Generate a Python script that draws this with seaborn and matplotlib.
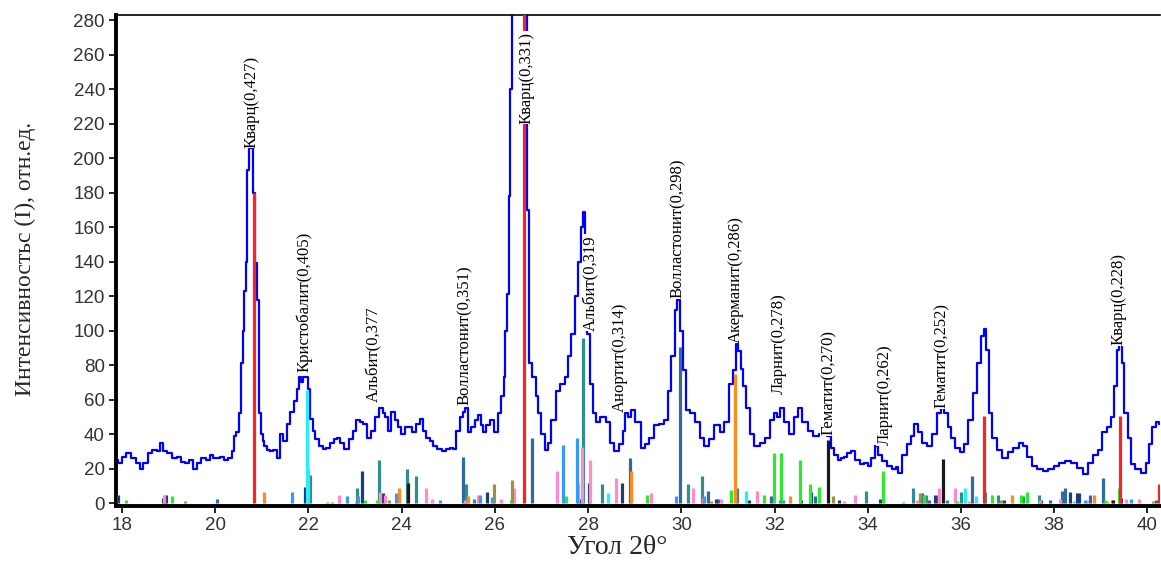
import matplotlib
matplotlib.use("Agg")
import matplotlib.pyplot as plt
import seaborn as sns
import pandas as pd

# ---------------- data ----------------
two_theta = [17.87, 17.95, 18.05, 18.14, 18.25, 18.35, 18.42, 18.5, 18.6, 18.7, 18.78, 18.85, 18.92,
             19.0, 19.13, 19.22, 19.3, 19.4, 19.48, 19.56, 19.65, 19.75, 19.85, 19.92, 20.0, 20.07,
             20.14, 20.22, 20.32, 20.38, 20.42, 20.48, 20.53, 20.57, 20.6, 20.64, 20.67, 20.71, 20.74,
             20.81, 20.83, 20.88, 20.92, 20.96, 21.0, 21.03, 21.08, 21.13, 21.2, 21.28, 21.35, 21.42,
             21.5, 21.57, 21.65, 21.71, 21.78, 21.82, 21.87, 21.91, 21.96, 22.0, 22.07, 22.12, 22.17,
             22.28, 22.35, 22.42, 22.5, 22.58, 22.64, 22.72, 22.81, 22.92, 23.0, 23.06, 23.14, 23.21,
             23.31, 23.38, 23.46, 23.56, 23.62, 23.67, 23.74, 23.81, 23.89, 23.95, 24.03, 24.1, 24.17,
             24.28, 24.35, 24.42, 24.49, 24.56, 24.64, 24.72, 24.81, 24.9, 24.99, 25.07, 25.14, 25.21,
             25.28, 25.34, 25.39, 25.46, 25.53, 25.6, 25.67, 25.72, 25.78, 25.85, 25.92, 26.03, 26.1,
             26.17, 26.21, 26.24, 26.28, 26.31, 26.35, 26.4, 26.5, 26.6, 26.68, 26.71, 26.76, 26.85,
             26.9, 26.96, 27.03, 27.1, 27.17, 27.25, 27.35, 27.46, 27.53, 27.6, 27.67, 27.75, 27.82,
             27.88, 27.92, 27.96, 27.99, 28.07, 28.14, 28.21, 28.32, 28.43, 28.5, 28.6, 28.71, 28.78,
             28.82, 28.88, 28.96, 29.07, 29.18, 29.25, 29.35, 29.46, 29.57, 29.68, 29.75, 29.82, 29.89,
             29.94, 30.0, 30.07, 30.14, 30.25, 30.35, 30.46, 30.53, 30.64, 30.78, 30.89, 30.96, 31.07,
             31.14, 31.19, 31.25, 31.3, 31.36, 31.43, 31.5, 31.61, 31.75, 31.86, 31.96, 32.03, 32.09,
             32.14, 32.25, 32.36, 32.46, 32.53, 32.64, 32.78, 32.89, 33.0, 33.07, 33.18, 33.25, 33.32,
             33.39, 33.46, 33.53, 33.6, 33.68, 33.78, 33.89, 33.96, 34.03, 34.11, 34.18, 34.25, 34.36,
             34.46, 34.57, 34.62, 34.68, 34.78, 34.89, 34.96, 35.04, 35.11, 35.21, 35.32, 35.43, 35.54,
             35.61, 35.68, 35.75, 35.82, 35.93, 36.04, 36.11, 36.21, 36.29, 36.39, 36.46, 36.51, 36.57,
             36.64, 36.71, 36.82, 36.96, 37.07, 37.18, 37.29, 37.36, 37.46, 37.57, 37.68, 37.82, 37.93,
             38.04, 38.18, 38.29, 38.43, 38.54, 38.68, 38.79, 38.89, 39.0, 39.07, 39.18, 39.25, 39.32,
             39.37, 39.42, 39.47, 39.54, 39.61, 39.68, 39.79, 39.93, 40.0, 40.07, 40.14, 40.21, 40.27]
intensity = [25, 23, 27, 29, 26, 23, 20, 23, 29, 31, 30, 35, 30,
             29, 26, 27, 24, 23, 25, 20, 23, 26, 25, 28, 26, 26,
             27, 25, 26, 30, 39, 41, 52, 81, 100, 123, 140, 193, 206,
             206, 180, 139, 118, 52, 40, 36, 33, 31, 30, 31, 26, 40,
             36, 46, 53, 59, 66, 73, 70, 73, 73, 66, 49, 42, 37,
             33, 31.5, 32, 35, 37, 38, 35, 31.5, 37, 42, 48, 47, 46,
             38, 42, 50, 55, 52, 50, 42, 53, 48, 44, 40, 44, 44,
             41, 46, 49, 42, 38, 36, 33, 31.5, 30, 31.5, 32, 31.5, 42,
             50, 53, 55, 41, 44, 48, 51, 45, 41, 45, 48, 41, 52,
             62, 73, 100, 121, 178, 240, 320, 420, 440, 330, 170, 81, 73,
             62, 52, 40, 31, 35, 48, 65, 69, 73, 85, 98, 120, 140,
             160, 169, 150, 98, 69, 52, 47, 50, 47, 35, 30, 34, 42,
             52, 50, 54, 47, 32, 34, 38, 45, 46, 48, 65, 85, 112,
             118, 100, 77, 54, 52, 47, 38, 33, 37, 45, 41, 47, 69,
             77, 92, 88, 78, 68, 55, 40, 33, 35, 38, 48, 52, 50,
             55, 47, 40, 50, 55, 47, 42, 39, 40, 41, 39, 32, 28,
             25, 26, 27, 29, 30, 25, 22.5, 23, 21.6, 26, 33, 28, 24.5,
             21.6, 19.7, 21, 17.7, 28, 34.5, 39, 46, 41, 35, 33, 40, 52,
             55, 52, 44, 38, 32, 29.5, 34, 48, 63.6, 81, 96.6, 101, 89,
             52, 38, 31, 26, 29.5, 32, 35, 33, 27, 21.6, 19.7, 18.7, 19.7,
             21.6, 23.5, 24.5, 23.5, 20.6, 16.8, 23.5, 28, 31, 41, 44, 50, 68,
             89, 95, 81, 52, 38, 22.5, 19.7, 17.7, 23.5, 34.5, 44, 47, 46]

# reference stick patterns (position 2θ, relative intensity) by phase colour
red_pos = [20.83, 26.63, 36.50, 39.42, 40.25]
red_int = [180, 300, 50.4, 50.4, 10.8]
cyan_pos = [21.96, 28.42, 31.38, 36.09, 36.32, 38.43]
cyan_int = [65.5, 6, 7, 8.5, 4, 1]
teal_pos = [22.03, 23.05, 23.52, 24.12, 24.30, 25.38, 25.55, 27.90, 28.30, 30.14, 30.45, 31.19,
            32.18, 33.96, 34.98, 35.25, 35.71, 35.99, 36.52, 36.79, 37.33, 37.68]
teal_int = [16, 8.5, 25, 20, 15.5, 10.8, 2.5, 95.6, 10.8, 10.8, 15.5, 8.5,
            2, 7, 8.5, 4.6, 2, 6.6, 6.6, 4.6, 4, 4.6]
steel_pos = [20.03, 25.31, 26.80, 28.89, 29.98, 30.57, 30.78, 31.93, 32.86, 35.17, 35.32, 35.50,
             36.23, 37.92, 38.16, 38.23, 38.77, 39.05, 40.18]
steel_int = [2.3, 26.5, 37.5, 26.3, 90.6, 6.9, 2.3, 4, 4, 6, 2, 4.6,
             15.5, 1.8, 7, 8.5, 4.6, 14.8, 1.8]
navy_pos = [17.92, 18.87, 18.94, 21.92, 23.14, 23.60, 25.84, 27.82, 28.02, 28.73, 30.75, 31.46,
            32.57, 32.78, 33.38, 34.27, 35.44, 36.93, 37.72, 38.34, 38.49, 38.53, 39.44]
navy_int = [4.6, 2.7, 4.6, 9.5, 18.7, 5.6, 6.6, 2.3, 11.4, 11.4, 2.3, 2,
            2, 6.6, 1.8, 2.3, 4.6, 2, 2, 6.6, 6, 6, 3]
pink_pos = [18.91, 21.99, 22.66, 23.54, 23.64, 24.53, 24.66, 25.35, 25.64, 26.14, 26.42, 27.34,
            27.79, 27.87, 28.05, 28.60, 29.35, 30.25, 30.47, 30.85, 31.62, 33.50, 33.73, 35.05,
            35.52, 35.88, 36.18, 37.70, 38.12, 38.70, 39.14, 39.54, 39.81]
pink_int = [4.6, 20, 4.6, 6.6, 4.6, 8.9, 2.3, 1.5, 4.6, 2.3, 8.5, 18.7,
            11.4, 32.6, 25, 14.8, 6, 8.9, 3, 2.3, 7, 1, 4.6, 2,
            8.9, 8.5, 1, 2, 2.3, 2, 1, 2.3, 2.3]
orange_pos = [21.05, 23.94, 25.42, 28.93, 31.15, 32.33, 37.09, 38.85]
orange_int = [6.6, 8.9, 4, 18.5, 75, 4, 4.6, 4.6]
green_pos = [18.08, 19.08, 22.39, 23.21, 23.48, 26.35, 27.52, 29.27, 31.07, 31.77, 31.99, 32.14,
             32.55, 32.75, 32.95, 34.32, 34.75, 35.21, 35.91, 36.66, 37.29, 37.41, 39.09, 39.40]
green_int = [1.8, 4, 0.6, 1.8, 1.8, 1.8, 4, 4.6, 7.5, 4.6, 29, 29,
             25, 10.8, 9.5, 18.5, 0.6, 4.6, 1, 4.6, 4.6, 6.6, 1.8, 8.9]
olive_pos = [19.35, 22.51, 23.02, 23.72, 25.98, 26.37, 30.63, 33.26, 35.13, 36.86, 39.25, 40.11]
olive_int = [1, 0.6, 0.6, 1.8, 10.8, 13.3, 1, 4, 6, 2, 1.8, 1]
dodger_pos = [21.65, 22.82, 23.07, 23.87, 24.82, 25.67, 25.94, 27.47, 27.76, 29.89, 30.49, 32.12,
              38.67, 39.64]
dodger_int = [6.6, 4, 4, 6, 1.8, 4.6, 3.7, 33.6, 37.5, 4, 4, 2, 1.8, 2.3]
black_pos = [24.14, 33.14, 35.61, 39.27]
black_int = [11.4, 36.5, 25.6, 2]

label_text = ["Кварц(0,427)", "Кристобалит(0,405)", "Альбит(0,377", "Волластонит(0,351)",
              "Кварц(0,331)", "Альбит(0,319", "Анортит(0,314)", "Волластонит(0,298)",
              "Акерманит(0,286)", "Ларнит(0,278)", "Гематит(0,270)", "Ларнит(0,262)",
              "Гематит(0,252)", "Кварц(0,228)"]
label_x = [20.77, 21.92, 23.42, 25.35, 26.68, 28.07, 28.68, 29.92, 31.18, 32.10, 33.16, 34.36,
           35.58, 39.39]
label_y = [206, 76, 58.5, 57, 220, 100, 53, 119, 93, 63, 39.5, 33.6, 55, 91.6]

x_ticks = list(range(18, 41, 2))
y_ticks = list(range(0, 281, 20))

# ---------------- plot ----------------
sns.set_style("white")
plt.rcParams["font.family"] = ["Liberation Sans", "DejaVu Sans"]

fig = plt.figure(figsize=(11.61, 5.62), dpi=100)
ax = fig.add_axes([116 / 1161, 1 - 506 / 562, (1160 - 116) / 1161, (506 - 15) / 562])

df = pd.DataFrame({"theta": two_theta, "I": intensity})
sns.lineplot(data=df, x="theta", y="I", ax=ax, color="#0000ff", linewidth=1.6,
             drawstyle="steps-mid", estimator=None, sort=True, zorder=2)

sticks = [
    (steel_pos, steel_int, "#2e6a9c"),
    (navy_pos, navy_int, "#1c3f73"),
    (teal_pos, teal_int, "#2e8f8c"),
    (pink_pos, pink_int, "#ff8cc6"),
    (orange_pos, orange_int, "#ff8c1a"),
    (green_pos, green_int, "#2ee82e"),
    (olive_pos, olive_int, "#a09040"),
    (dodger_pos, dodger_int, "#3399ff"),
    (cyan_pos, cyan_int, "#22f0ff"),
    (black_pos, black_int, "#1a1a1a"),
    (red_pos, red_int, "#ff2020"),
]
for pos, inten, col in sticks:
    ax.vlines(pos, 0, inten, colors=col, linewidth=2.3, zorder=3)

for t, x, y in zip(label_text, label_x, label_y):
    ax.text(x, y, t, rotation=90, ha="center", va="bottom", fontsize=12,
            family=["Liberation Serif", "DejaVu Serif"], color="black", zorder=5,
            bbox=dict(facecolor="white", edgecolor="none", pad=0.5))

ax.set_xlim(17.87, 40.27)
ax.set_ylim(-1.7, 283)
ax.set_xticks(x_ticks)
ax.set_yticks(y_ticks)
ax.set_xlabel("")
ax.set_ylabel("")
ax.tick_params(axis="both", which="major", direction="out", length=5, width=1.2,
               labelsize=13.5, labelcolor="#333333", color="black", pad=3,
               bottom=True, left=True)

for side in ["right"]:
    ax.spines[side].set_visible(False)
ax.spines["left"].set_linewidth(2.8)
ax.spines["bottom"].set_linewidth(2.8)
ax.spines["top"].set_linewidth(1.2)
for s in ["left", "bottom", "top"]:
    ax.spines[s].set_color("black")

fig.text(25 / 1161, 1 - 259 / 562, "Интенсивностьс (I), отн.ед.", rotation=90,
         ha="center", va="center", fontsize=17, family=["Liberation Serif", "DejaVu Serif"])
fig.text(617 / 1161, 1 - 548 / 562, "Угол 2θ°", ha="center", va="center", fontsize=20,
         family=["Liberation Serif", "DejaVu Serif"])

fig.savefig("out.png", dpi=100)
